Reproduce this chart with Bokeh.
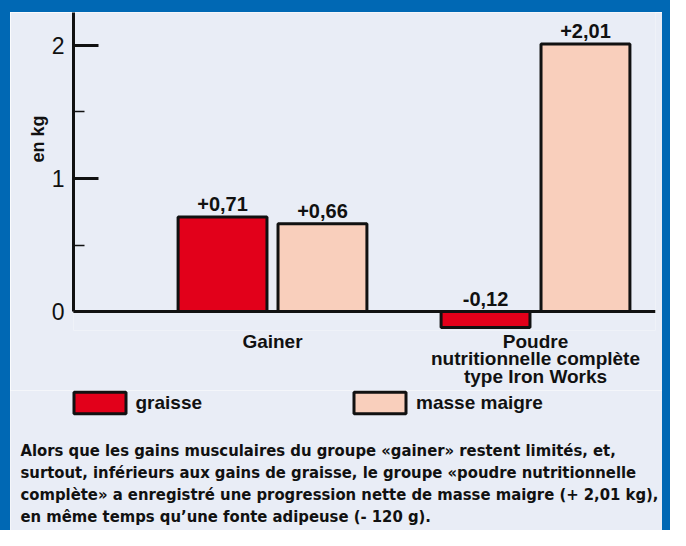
from bokeh.plotting import figure
from bokeh.layouts import column, row
from bokeh.models import (Range1d, LinearAxis, FixedTicker, ColumnDataSource, Span,
                          Legend, LegendItem, Title, Label, Spacer)
from bokeh.transform import dodge
from bokeh.core.properties import value
from bokeh.embed import file_html
from bokeh.resources import INLINE

# ---------------- data ----------------
groups = ["Gainer", "Poudre\nnutritionnelle complète\ntype Iron Works"]
graisse = [0.71, -0.12]
masse_maigre = [0.66, 2.01]
series_names = ["graisse", "masse maigre"]
y_ticks = [0, 1, 2]
y_minor_ticks = [0.5, 1.5]
y_label = "en kg"
caption_lines = [
    "Alors que les gains musculaires du groupe «gainer» restent limités, et,",
    "surtout, inférieurs aux gains de graisse, le groupe «poudre nutritionnelle",
    "complète» a enregistré une progression nette de masse maigre (+ 2,01 kg),",
    "en même temps qu’une fonte adipeuse (- 120 g).",
]

# ---------------- style / layout ----------------
BLUE = "#0068b4"
BG = "#e9edf6"
RED = "#e2001a"
PINK = "#f9cfbc"
INK = "#111111"
FONT = "Liberation Sans"
CAP_FONT = "'Liberation Sans Narrow', 'DejaVu Sans Condensed', 'Liberation Sans', sans-serif"

BL, BT, BR = 10, 12, 8                # blue border widths (left, top, right)
TOTAL_W, TOTAL_H = 670, 530
W = TOTAL_W - BL - BR                 # canvas width of both figures
SPLIT = 390                           # reference y where chart ends and caption part starts
HA = SPLIT - BT                       # chart canvas height
HB = TOTAL_H - SPLIT                  # caption canvas height
# chart frame edges in canvas px (reference px minus border)
FL, FR, FT, FB = 73 - BL, 655 - BL, 12 - BT, 332 - BT
PX_X, PX_Y = 263.0, 134.0             # px per unit
ZERO_PY = 313 - BT                    # canvas px of y = 0
x_start = -(272 - 73) / PX_X
x_end = x_start + (FR - FL) / PX_X
y_end = (ZERO_PY - FT) / PX_Y
y_start = (ZERO_PY - FB) / PX_Y

OFF = 0.19     # dodge of each bar from group centre
BW = 0.338     # bar width


def fmt(v):
    return f"{v:+.2f}".replace(".", ",")


src = ColumnDataSource(dict(
    idx=list(range(len(groups))),
    graisse=graisse,
    masse_maigre=masse_maigre,
    g_txt=[fmt(v) for v in graisse],
    m_txt=[fmt(v) for v in masse_maigre],
    g_ly=[max(v, 0) for v in graisse],
    m_ly=[max(v, 0) for v in masse_maigre],
))

# ================= chart =================
p = figure(width=W, height=HA, x_range=Range1d(x_start, x_end), y_range=Range1d(y_start, y_end),
           output_backend="svg", toolbar_location=None, x_axis_location=None, y_axis_location=None,
           min_border_left=FL, min_border_right=W - FR, min_border_top=FT, min_border_bottom=HA - FB,
           background_fill_color=BG, border_fill_color=BG, outline_line_color=None, title=None,
           margin=0)
p.grid.visible = False

yaxis = LinearAxis(ticker=FixedTicker(ticks=y_ticks, minor_ticks=y_minor_ticks), bounds=(0, y_end),
                   axis_line_width=3, axis_line_color=INK,
                   major_tick_in=25, major_tick_out=0, major_tick_line_width=3, major_tick_line_color=INK,
                   minor_tick_in=11, minor_tick_out=0, minor_tick_line_width=1.5, minor_tick_line_color=INK,
                   major_label_standoff=9, major_label_text_font=FONT, major_label_text_font_size="23px",
                   major_label_text_color=INK)
p.add_layout(yaxis, "left")
p.add_layout(Title(text=y_label, align="right", offset=103, vertical_align="bottom", standoff=2,
                   text_font=FONT, text_font_style="bold", text_font_size="18px", text_color=INK),
             "left")

xaxis = LinearAxis(ticker=FixedTicker(ticks=list(range(len(groups))), minor_ticks=[]),
                   major_label_overrides={i: g for i, g in enumerate(groups)},
                   axis_line_color=None, major_tick_line_color=None, minor_tick_line_color=None,
                   major_tick_in=0, major_tick_out=0, minor_tick_in=0, minor_tick_out=0,
                   major_label_standoff=0, major_label_text_font=FONT, major_label_text_font_style="bold",
                   major_label_text_font_size="19px", major_label_text_line_height=0.85,
                   major_label_text_color=INK)
p.add_layout(xaxis, "below")

r1 = p.vbar(x=dodge("idx", -OFF), top="graisse", bottom=0, width=BW, source=src,
            fill_color=RED, line_color=INK, line_width=3)
r2 = p.vbar(x=dodge("idx", OFF), top="masse_maigre", bottom=0, width=BW, source=src,
            fill_color=PINK, line_color=INK, line_width=3)

p.add_layout(Span(location=0, dimension="width", line_color=INK, line_width=3))

for xs, ycol, tcol in ((-OFF, "g_ly", "g_txt"), (OFF, "m_ly", "m_txt")):
    p.text(x=dodge("idx", xs), y=ycol, text=tcol, source=src, text_align="center",
           text_baseline="bottom", y_offset=-6, text_font=value(FONT), text_font_style="bold",
           text_font_size="20px", text_color=INK)

# ================= legend + caption =================
q = figure(width=W, height=HB, x_range=Range1d(0, W), y_range=Range1d(HB, 0),
           output_backend="svg", toolbar_location=None, x_axis_location=None, y_axis_location=None,
           min_border=0, background_fill_color=BG, border_fill_color=BG, outline_line_color=None,
           title=None, margin=0)
q.grid.visible = False
# legend keys share the bar styling (hidden renderers, only used for the legend)
k1 = q.vbar(x=[0], top=[0], width=1, fill_color=RED, line_color=INK, line_width=3, visible=False)
k2 = q.vbar(x=[0], top=[0], width=1, fill_color=PINK, line_color=INK, line_width=3, visible=False)

legend = Legend(items=[LegendItem(label=series_names[0], renderers=[k1]),
                       LegendItem(label=series_names[1], renderers=[k2])],
                orientation="horizontal", location=(73 - BL - 6.5, HB - (392 - SPLIT) - 24.3),
                glyph_width=65, glyph_height=27, label_standoff=4, spacing=145,
                padding=0, margin=0, border_line_color=None, background_fill_alpha=0,
                inactive_fill_alpha=0, click_policy="none",
                label_text_font=FONT, label_text_font_style="bold", label_text_font_size="19px",
                label_text_color=INK)
q.add_layout(legend)

for i, line in enumerate(caption_lines):
    q.add_layout(Label(x=20 - BL, y=450 + 22 * i - SPLIT, text=line, text_align="left",
                       text_baseline="alphabetic", text_font=CAP_FONT, text_font_style="bold",
                       text_font_size="16.5px", text_color=INK))

for f in (p, q):
    try:
        f.frame_align = False
    except Exception:
        pass

blue = {"background-color": BLUE}
layout = row(
    Spacer(width=BL, height=TOTAL_H, styles=blue, margin=0),
    column(Spacer(width=W, height=BT, styles=blue, margin=0), p, row(q, spacing=0), spacing=0),
    Spacer(width=BR, height=TOTAL_H, styles=blue, margin=0),
    spacing=0,
)

open("out.html", "w").write(file_html(layout, INLINE))
